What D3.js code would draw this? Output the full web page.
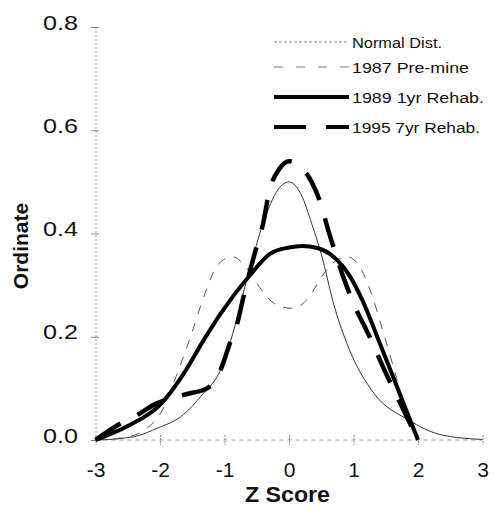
<!DOCTYPE html>
<html><head><meta charset="utf-8">
<script src="https://cdnjs.cloudflare.com/ajax/libs/d3/7.8.5/d3.min.js"></script>
<style>
html,body{margin:0;padding:0;background:#fff;}
text{font-family:Arial,"Liberation Sans",sans-serif;fill:#111;}
</style></head>
<body><svg id="c" width="493" height="517"></svg>
<script>
// ---- data ----
const xTicks = [-3,-2,-1,0,1,2,3];
const yTicks = [0.0,0.2,0.4,0.6,0.8];
const seriesNames = ["Normal Dist.","1987 Pre-mine","1989 1yr Rehab.","1995 7yr Rehab."];

const normalZ = [-3,-2.6,-2.35,-2.04,-1.68,-1.33,-1.06,-0.91,-0.62,-0.4,-0.17,0,0.19,0.35,0.5,0.7,0.92,1.32,1.85,2.36,3];
const normalY = [0,0.003,0.008,0.023,0.045,0.09,0.136,0.19,0.326,0.42,0.485,0.5,0.475,0.42,0.36,0.26,0.18,0.09,0.039,0.01,0.001];

const pre1987Z = [-3,-2.5,-2.2,-2,-1.7,-1.5,-1.3,-1.1,-0.87,-0.7,-0.45,-0.2,0.05,0.3,0.5,0.7,0.9,1.1,1.3,1.45,1.6,1.72,1.85,2];
const pre1987Y = [0,0.006,0.023,0.05,0.14,0.21,0.285,0.34,0.355,0.34,0.295,0.262,0.255,0.275,0.315,0.345,0.355,0.335,0.275,0.213,0.15,0.097,0.05,0];

const rehab1989Z = [-3,-2.5,-2,-1.6,-1.34,-1.06,-0.6,-0.3,0,0.2,0.44,0.69,0.95,1.14,1.4,1.7,2];
const rehab1989Y = [0,0.027,0.068,0.135,0.19,0.245,0.32,0.36,0.373,0.376,0.372,0.355,0.316,0.27,0.19,0.095,0];

const rehab1995Z = [-3,-2.64,-2.33,-2.07,-1.8,-1.55,-1.27,-1.06,-0.91,-0.8,-0.71,-0.6,-0.49,-0.4,-0.31,-0.15,0,0.2,0.35,0.5,0.6,0.7,0.83,1,1.25,1.5,1.75,2];
const rehab1995Y = [0,0.03,0.05,0.07,0.082,0.09,0.10,0.136,0.19,0.227,0.275,0.33,0.38,0.42,0.48,0.525,0.54,0.527,0.5,0.455,0.41,0.37,0.32,0.265,0.2,0.13,0.065,0];

// ---- layout ----
const svg = d3.select("#c");
const x = d3.scaleLinear().domain([-3,3]).range([95.5,482.5]);
const y = d3.scaleLinear().domain([0,0.8]).range([440,27]);

// axes (dotted gray)
const yAxis = d3.axisLeft(y).tickValues(yTicks).tickFormat(d3.format(".1f")).tickSize(5).tickPadding(13);
const gy = svg.append("g").attr("transform","translate(96,0)").call(yAxis);
gy.select(".domain").attr("stroke","#9a9a9a").attr("stroke-dasharray","2,2").attr("d",`M0,${y(0.8)}V${y(0)}`);
gy.selectAll(".tick line").attr("stroke","#888").attr("x1",3);
gy.selectAll(".tick text").attr("font-size",21).attr("fill","#111")
  .attr("textLength",35).attr("lengthAdjust","spacingAndGlyphs").attr("dy","0.1em");

const xAxis = d3.axisBottom(x).tickValues(xTicks).tickFormat(d3.format("d")).tickSize(5).tickPadding(17);
const gx = svg.append("g").attr("transform","translate(0,440)").call(xAxis);
gx.select(".domain").attr("stroke","#9a9a9a").attr("stroke-dasharray","4,4").attr("d",`M${x(-3)},0H${x(3)}`);
gx.selectAll(".tick line").attr("stroke","#888").attr("y1",-5).attr("stroke-dasharray","2,1");
gx.selectAll(".tick text").attr("font-size",21).attr("fill","#111").text(d=>d<0?"-"+Math.abs(d):d);

// axis titles
svg.append("text").attr("x",287.5).attr("y",502).attr("text-anchor","middle")
  .attr("font-size",22).attr("font-weight","bold").attr("textLength",85).attr("lengthAdjust","spacingAndGlyphs").text("Z Score");
svg.append("text").attr("transform","translate(28,246) rotate(-90)").attr("text-anchor","middle")
  .attr("font-size",21).attr("font-weight","bold").text("Ordinate");

// series
const line = d3.line().x(d=>x(d[0])).y(d=>y(d[1])).curve(d3.curveMonotoneX);
const zip = (a,b)=>a.map((v,i)=>[v,b[i]]);
const series = [
  {name:seriesNames[0], pts:zip(normalZ,normalY), stroke:"#333", w:1, dash:null},
  {name:seriesNames[1], pts:zip(pre1987Z,pre1987Y), stroke:"#555", w:1, dash:"9,9"},
  {name:seriesNames[2], pts:zip(rehab1989Z,rehab1989Y), stroke:"#000", w:4, dash:null},
  {name:seriesNames[3], pts:zip(rehab1995Z,rehab1995Y), stroke:"#000", w:4.5, dash:"30,19"}
];
svg.append("g").selectAll("path").data(series).join("path")
  .attr("d",d=>line(d.pts)).attr("fill","none")
  .attr("stroke",d=>d.stroke).attr("stroke-width",d=>d.w)
  .attr("stroke-dasharray",d=>d.dash);

// legend
const legY = [42,67,97,127];
const legTextW = [90,117,132,128];
const legStyle = [
  {stroke:"#888", w:1, dash:"3,2"},
  {stroke:"#777", w:1, dash:"9,13"},
  {stroke:"#000", w:4, dash:null},
  {stroke:"#000", w:4, dash:"32,20"}
];
const lg = svg.append("g");
series.forEach((s,i)=>{
  lg.append("line").attr("x1",274).attr("x2",349).attr("y1",legY[i]).attr("y2",legY[i])
    .attr("stroke",legStyle[i].stroke).attr("stroke-width",legStyle[i].w).attr("stroke-dasharray",legStyle[i].dash);
  lg.append("text").attr("x",352).attr("y",legY[i]).attr("dy","0.36em").attr("font-size",15.5)
    .attr("textLength",legTextW[i]).attr("lengthAdjust","spacingAndGlyphs").text(s.name);
});
</script></body></html>
